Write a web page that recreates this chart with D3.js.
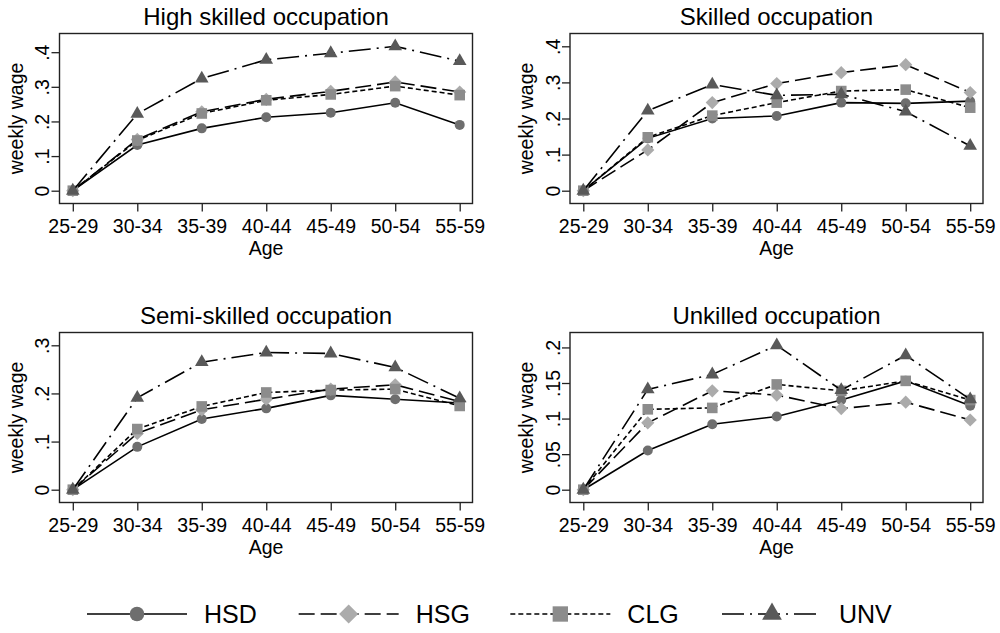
<!DOCTYPE html>
<html><head><meta charset="utf-8">
<script src="https://cdn.jsdelivr.net/npm/d3@7/dist/d3.min.js"></script>
<style>
body{margin:0;background:#fff}
svg{display:block}
text{font-family:"Liberation Sans",Arial,Helvetica,sans-serif;fill:#000}
</style>
</head><body>
<svg id="chart" width="1000" height="633"></svg>
<script>
// ---------------- DATA ----------------
const ageGroups = ["25-29","30-34","35-39","40-44","45-49","50-54","55-59"];
const seriesNames = ["HSD","HSG","CLG","UNV"];
const panelTitles = ["High skilled occupation","Skilled occupation","Semi-skilled occupation","Unkilled occupation"];

// High skilled occupation
const highHSD = [0, 0.132, 0.180, 0.212, 0.225, 0.254, 0.190];
const highHSG = [0, 0.148, 0.228, 0.264, 0.287, 0.314, 0.285];
const highCLG = [0, 0.145, 0.223, 0.261, 0.278, 0.302, 0.276];
const highUNV = [0, 0.222, 0.324, 0.378, 0.397, 0.417, 0.374];

// Skilled occupation
const skilledHSD = [0, 0.145, 0.200, 0.207, 0.244, 0.242, 0.248];
const skilledHSG = [0, 0.113, 0.244, 0.297, 0.327, 0.349, 0.272];
const skilledCLG = [0, 0.148, 0.208, 0.244, 0.276, 0.280, 0.230];
const skilledUNV = [0, 0.222, 0.294, 0.264, 0.267, 0.219, 0.124];

// Semi-skilled occupation
const semiHSD = [0, 0.089, 0.147, 0.169, 0.196, 0.188, 0.180];
const semiHSG = [0, 0.117, 0.166, 0.188, 0.209, 0.218, 0.183];
const semiCLG = [0, 0.126, 0.173, 0.202, 0.207, 0.209, 0.174];
const semiUNV = [0, 0.191, 0.265, 0.285, 0.283, 0.254, 0.190];

// Unskilled occupation
const unskHSD = [0, 0.055, 0.092, 0.103, 0.126, 0.153, 0.118];
const unskHSG = [0, 0.094, 0.139, 0.133, 0.114, 0.123, 0.098];
const unskCLG = [0, 0.113, 0.115, 0.148, 0.139, 0.153, 0.126];
const unskUNV = [0, 0.141, 0.162, 0.203, 0.140, 0.189, 0.127];

// y-axis ticks and labels
const yTicksHigh = [0, 0.1, 0.2, 0.3, 0.4];
const yLabelsHigh = ["0", ".1", ".2", ".3", ".4"];
const yTicksSkilled = [0, 0.1, 0.2, 0.3, 0.4];
const yLabelsSkilled = ["0", ".1", ".2", ".3", ".4"];
const yTicksSemi = [0, 0.1, 0.2, 0.3];
const yLabelsSemi = ["0", ".1", ".2", ".3"];
const yTicksUnsk = [0, 0.05, 0.1, 0.15, 0.2];
const yLabelsUnsk = ["0", ".05", ".1", ".15", ".2"];

const xTitle = "Age";
const yTitle = "weekly wage";

// ---------------- BUILD ----------------
const panelSeries = [
  [highHSD, highHSG, highCLG, highUNV],
  [skilledHSD, skilledHSG, skilledCLG, skilledUNV],
  [semiHSD, semiHSG, semiCLG, semiUNV],
  [unskHSD, unskHSG, unskCLG, unskUNV]
];
const panelTicks = [yTicksHigh, yTicksSkilled, yTicksSemi, yTicksUnsk];
const panelTickLabels = [yLabelsHigh, yLabelsSkilled, yLabelsSemi, yLabelsUnsk];

// layout (styling, not data)
const frames = [
  {x: 59.5, y: 33.5, w: 413, h: 170},
  {x: 570, y: 33.5, w: 413, h: 170},
  {x: 59.5, y: 332.5, w: 413, h: 170},
  {x: 570, y: 332.5, w: 413, h: 170}
];
const innerPad = 12.8;

const styles = {
  HSD: {dash: null, fill: "#6e6e6e", shape: "circle"},
  HSG: {dash: "16,6", fill: "#ababab", shape: "diamond"},
  CLG: {dash: "5,3", fill: "#8c8c8c", shape: "square"},
  UNV: {dash: "22,6,2,6", fill: "#595959", shape: "triangle"}
};

function markerPath(shape, k) {
  if (shape === "circle") {
    const r = 5 * k;
    return `M${-r},0A${r},${r} 0 1,0 ${r},0A${r},${r} 0 1,0 ${-r},0Z`;
  }
  if (shape === "diamond") {
    const h = 6.6 * k;
    return `M0,${-h}L${h},0L0,${h}L${-h},0Z`;
  }
  if (shape === "square") {
    const h = 5.3 * k;
    return `M${-h},${-h}L${h},${-h}L${h},${h}L${-h},${h}Z`;
  }
  const w = 6.8 * k, ht = 11.8 * k;
  return `M0,${-ht*2/3}L${w},${ht/3}L${-w},${ht/3}Z`;
}

const svg = d3.select("#chart");
svg.append("rect").attr("width", 1000).attr("height", 633).attr("fill", "#fff");

panelSeries.forEach((seriesList, p) => {
  const f = frames[p];
  const ticks = panelTicks[p];
  const labels = panelTickLabels[p];
  const maxVal = Math.max(d3.max(ticks), d3.max(seriesList.flat()));
  const minVal = Math.min(d3.min(ticks), d3.min(seriesList.flat()));

  const x = d3.scalePoint().domain(ageGroups).range([f.x + innerPad + 0.5, f.x + f.w - innerPad]);
  const y = d3.scaleLinear().domain([minVal, maxVal]).range([f.y + f.h - innerPad, f.y + innerPad]);

  const g = svg.append("g");

  g.append("rect")
    .attr("x", f.x).attr("y", f.y).attr("width", f.w).attr("height", f.h)
    .attr("fill", "#fff").attr("stroke", "#222").attr("stroke-width", 1.4);

  const xAxis = g.append("g")
    .attr("transform", `translate(0,${f.y + f.h})`)
    .call(d3.axisBottom(x).tickSize(8).tickPadding(0));
  xAxis.select(".domain").remove();
  xAxis.selectAll(".tick line").attr("stroke", "#222").attr("stroke-width", 1.3);
  xAxis.selectAll(".tick text")
    .attr("y", 29.5).attr("dy", 0)
    .attr("font-size", "19.5px")
    .attr("fill", "#000");

  const yAxis = g.append("g")
    .attr("transform", `translate(${f.x},0)`)
    .call(d3.axisLeft(y).tickValues(ticks).tickFormat((d, i) => labels[i]).tickSize(8));
  yAxis.select(".domain").remove();
  yAxis.selectAll(".tick line").attr("stroke", "#222").attr("stroke-width", 1.3);
  yAxis.selectAll(".tick text")
    .attr("x", null).attr("dy", null)
    .attr("text-anchor", "middle")
    .attr("transform", "translate(-10.5,0) rotate(-90)")
    .attr("font-size", "19.5px")
    .attr("fill", "#000");
  g.selectAll(".tick").select("text").style("font-family", "'Liberation Sans', Arial, sans-serif");

  g.append("text")
    .attr("x", f.x + f.w / 2).attr("y", f.y - 8.5)
    .attr("text-anchor", "middle").attr("font-size", "24px")
    .text(panelTitles[p]);
  g.append("text")
    .attr("x", f.x + f.w / 2).attr("y", f.y + f.h + 51.5)
    .attr("text-anchor", "middle").attr("font-size", "19.5px")
    .text(xTitle);
  g.append("text")
    .attr("transform", `translate(${f.x - 37},${f.y + f.h / 2}) rotate(-90)`)
    .attr("text-anchor", "middle").attr("font-size", "19.5px")
    .text(yTitle);

  const line = d3.line().x((d, i) => x(ageGroups[i])).y(d => y(d));
  seriesList.forEach((vals, s) => {
    const st = styles[seriesNames[s]];
    g.append("path")
      .datum(vals)
      .attr("d", line)
      .attr("fill", "none")
      .attr("stroke", "#000")
      .attr("stroke-width", 1.6)
      .attr("stroke-dasharray", st.dash);
    g.selectAll(null)
      .data(vals)
      .enter().append("path")
      .attr("transform", (d, i) => `translate(${x(ageGroups[i])},${y(d)})`)
      .attr("d", markerPath(st.shape, 1))
      .attr("fill", st.fill)
      .attr("stroke", "none");
  });
});

// legend
const legendX = d3.scalePoint().domain(seriesNames).range([87, 722]);
const legendY = 614;
const lg = svg.append("g");
seriesNames.forEach(name => {
  const st = styles[name];
  const x0 = legendX(name);
  lg.append("line")
    .attr("x1", x0).attr("x2", x0 + 100)
    .attr("y1", legendY).attr("y2", legendY)
    .attr("stroke", "#000").attr("stroke-width", 1.6)
    .attr("stroke-dasharray", st.dash);
  lg.append("path")
    .attr("transform", `translate(${x0 + 50},${legendY})`)
    .attr("d", markerPath(st.shape, 1.45))
    .attr("fill", st.fill);
  lg.append("text")
    .attr("x", x0 + 117).attr("y", legendY + 9)
    .attr("font-size", "25px")
    .text(name);
});
</script>
</body></html>
